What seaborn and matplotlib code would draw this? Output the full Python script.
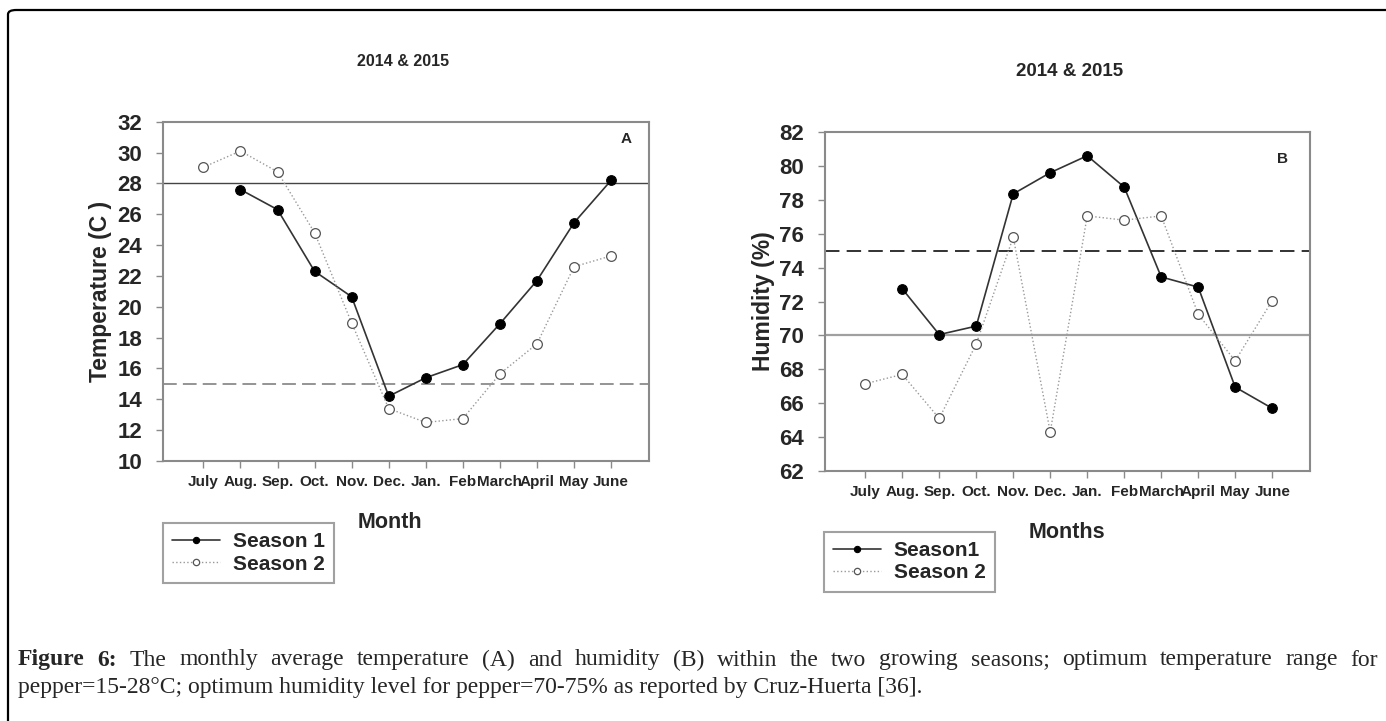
import numpy as np
import pandas as pd
import seaborn as sns
import matplotlib.pyplot as plt
from matplotlib.patches import FancyBboxPatch

# Data
months = ["July", "Aug.", "Sep.", "Oct.", "Nov.", "Dec.", "Jan.", "Feb", "March", "April", "May", "June"]
temp_s1 = [np.nan, 27.6, 26.3, 22.3, 20.65, 14.2, 15.4, 16.25, 18.9, 21.7, 25.45, 28.2]
temp_s2 = [29.05, 30.1, 28.75, 24.8, 18.95, 13.4, 12.5, 12.75, 15.65, 17.6, 22.6, 23.3]
hum_s1 = [np.nan, 72.75, 70.05, 70.55, 78.35, 79.6, 80.6, 78.75, 73.45, 72.85, 66.95, 65.7]
hum_s2 = [67.15, 67.7, 65.1, 69.5, 75.8, 64.3, 77.05, 76.8, 77.05, 71.25, 68.5, 72.05]
temp_opt = [28, 15]
hum_opt = [75, 70]

sns.set_style("white")
plt.rcParams['font.family'] = ['Liberation Sans', 'DejaVu Sans']
plt.rcParams['font.weight'] = 'bold'

df_t = pd.DataFrame({"m": np.arange(len(months)), "s1": temp_s1, "s2": temp_s2})
df_h = pd.DataFrame({"m": np.arange(len(months)), "s1": hum_s1, "s2": hum_s2})

fig = plt.figure(figsize=(13.86, 7.21), dpi=100)
ax1 = fig.add_axes([0.1176, 0.3606, 0.3506, 0.4706])
ax2 = fig.add_axes([0.5952, 0.3467, 0.3499, 0.4702])

s1_style = dict(color="#333333", linewidth=1.2, marker="o", markersize=7,
                markerfacecolor="black", markeredgecolor="black")
s2_style = dict(color="#999999", linewidth=1.0, linestyle=":", marker="o", markersize=7,
                markerfacecolor="white", markeredgecolor="#555555", markeredgewidth=0.9)


def draw_panel(ax, df, lab1, lab2):
    sns.lineplot(data=df.dropna(subset=["s1"]), x="m", y="s1", ax=ax, label=lab1, **s1_style)
    sns.lineplot(data=df, x="m", y="s2", ax=ax, label=lab2, **s2_style)
    ax.set_xlim(-1.09, 12.02)
    ax.set_xticks(np.arange(len(months)))
    ax.set_xticklabels(months, fontsize=11, fontweight="bold")
    for sp in ax.spines.values():
        sp.set_color("#8a8a8a")
        sp.set_linewidth(1.5)
    ax.tick_params(axis="both", which="both", direction="out", length=5, width=1,
                   color="#8a8a8a", bottom=True, left=True)
    ax.tick_params(axis="y", labelsize=16, pad=10)
    ax.tick_params(axis="x", pad=5)


# Panel A: temperature
draw_panel(ax1, df_t, "Season 1", "Season 2")
ax1.axhline(temp_opt[0], color="#444444", lw=1.0, zorder=1)
ax1.axhline(temp_opt[1], color="#777777", lw=1.1, ls=(0, (9, 4)), zorder=1)
ax1.set_ylim(10, 32)
ax1.set_yticks(np.arange(10, 33, 2))
ax1.set_ylabel("Temperature (C )", fontsize=16.5, fontweight="bold")
ax1.yaxis.set_label_coords(-0.105, 0.5)
ax1.set_xlabel("Month", fontsize=15.5, fontweight="bold")
ax1.xaxis.set_label_coords(0.467, -0.15)
ax1.text(0.953, 0.949, "A", transform=ax1.transAxes, ha="center", va="center",
         fontsize=11, fontweight="bold")
fig.text(403 / 1386, 1 - 62 / 721, "2014 & 2015", ha="center", va="center",
         fontsize=11.5, fontweight="bold")

# Panel B: humidity
draw_panel(ax2, df_h, "Season1", "Season 2")
ax2.axhline(hum_opt[0], color="#222222", lw=1.3, ls=(0, (8, 4)), zorder=1)
ax2.axhline(hum_opt[1], color="#a0a0a0", lw=1.6, zorder=1)
ax2.set_ylim(62, 82)
ax2.set_yticks(np.arange(62, 83, 2))
ax2.set_ylabel("Humidity (%)", fontsize=16.5, fontweight="bold")
ax2.yaxis.set_label_coords(-0.103, 0.5)
ax2.set_xlabel("Months", fontsize=15.5, fontweight="bold")
ax2.xaxis.set_label_coords(0.5, -0.15)
ax2.text(0.944, 0.921, "B", transform=ax2.transAxes, ha="center", va="center",
         fontsize=11, fontweight="bold")
fig.text(1070 / 1386, 1 - 72 / 721, "2014 & 2015", ha="center", va="center",
         fontsize=13.5, fontweight="bold")

# Legends below each panel
for ax, x0, y0 in [(ax1, 163, 523), (ax2, 824, 532)]:
    leg = ax.legend(loc="upper left", bbox_to_anchor=(x0 / 1386, 1 - y0 / 721),
                    bbox_transform=fig.transFigure, borderaxespad=0, frameon=True,
                    fancybox=False, prop={"size": 15, "weight": "bold"},
                    handlelength=2.3, handletextpad=0.6, labelspacing=0.15,
                    borderpad=0.45, markerscale=0.65)
    leg.get_frame().set_edgecolor("#8a8a8a")
    leg.get_frame().set_linewidth(1.5)

# Outer rounded border
fig.patches.append(FancyBboxPatch((8 / 1386, -0.05), 1.2, 1 - 10 / 721 + 0.05,
                                  boxstyle="round,pad=0,rounding_size=0.006",
                                  transform=fig.transFigure, fill=False,
                                  edgecolor="black", linewidth=1.6))

# Caption, first line justified
cap1 = ["Figure", "6:", "The", "monthly", "average", "temperature", "(A)", "and", "humidity", "(B)",
        "within", "the", "two", "growing", "seasons;", "optimum", "temperature", "range", "for"]
cap2 = "pepper=15-28°C; optimum humidity level for pepper=70-75% as reported by Cruz-Huerta [36]."
serif = ["Liberation Serif", "DejaVu Serif"]
fig.canvas.draw()
renderer = fig.canvas.get_renderer()
words = []
for i, w in enumerate(cap1):
    t = fig.text(0, 1 - 660 / 721, w, ha="left", va="center", fontsize=17, family=serif,
                 fontweight="bold" if i < 2 else "normal")
    words.append(t)
widths = [t.get_window_extent(renderer).width for t in words]
x_start, x_end = 18, 1378
gap = (x_end - x_start - sum(widths)) / (len(words) - 1)
x = x_start
for t, w in zip(words, widths):
    t.set_x(x / 1386)
    x += w + gap
fig.text(18 / 1386, 1 - 688 / 721, cap2, ha="left", va="center", fontsize=17,
         family=serif, fontweight="normal")

fig.savefig("out.png", dpi=100)
